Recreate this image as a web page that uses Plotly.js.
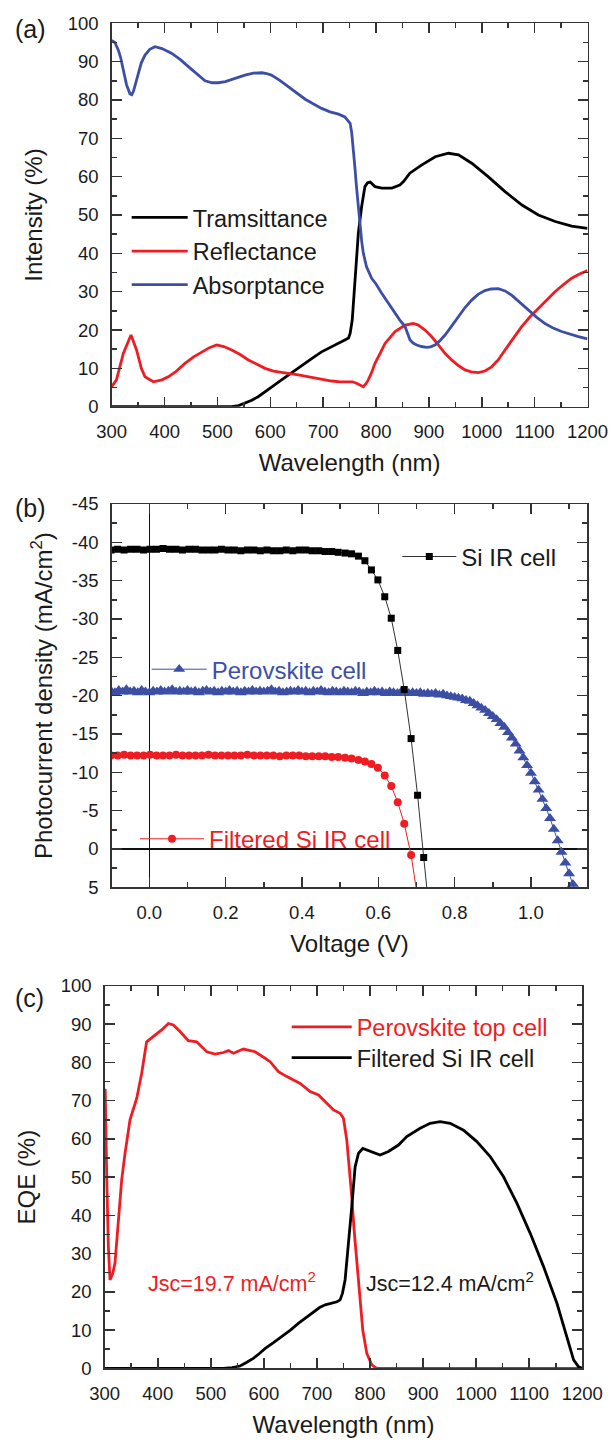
<!DOCTYPE html>
<html>
<head>
<meta charset="utf-8">
<script src="https://cdn.plot.ly/plotly-3.0.1.min.js"></script>
<style>html,body{margin:0;padding:0;background:#fff;}</style>
</head>
<body>
<div id="chart" style="width:610px;height:1442px;"></div>
<script>
// ---------------- Panel (a): optical spectra ----------------
const wlTrans = [300,350,400,450,500,527,540,552,565,577,590,603,618,634,650,666,681,697,713,729,741,748,751,755,760,766.5,772.8,779,784,789,798,811,830,845,852,864,886,912,937,956,981,1012,1044,1076,1107,1139,1170,1200];
const transmittance = [0,0,0,0,0,0,0.3,0.9,1.7,2.6,3.8,5.2,6.7,8.3,9.8,11.3,12.8,14.3,15.5,16.5,17.4,17.9,19.1,22.6,33,45.2,52.2,57.4,58.4,58.6,57.4,57,57,57.8,58.7,60.9,63,65.2,66.1,65.7,63.5,60,56.1,52.6,50,48.3,47.1,46.5];

const wlRefl = [300,309,322,336.5,347,356,363,378.7,395,407,420,438.6,455,470,485,498.5,512,527,543,558.5,575,590,606,621.5,637,653,669,684.5,700,716,732,748,756,763,770,776,781,785.4,792,798,808,817,836,855,870.5,880,892.6,905,917.8,930,943,955,968.3,980,993.5,1006,1018.7,1031,1044,1060,1075.5,1091,1107,1123,1138.5,1154,1170,1185,1200];
const reflectance = [5.2,7,13.9,18.7,14.8,10,7.8,6.5,7,7.8,9,11.3,13,14.3,15.4,16.1,15.7,14.8,13.6,12.2,11,10,9.3,8.9,8.6,8.3,7.9,7.4,7,6.7,6.5,6.5,6.5,6.1,5.6,5.2,6,7,9,11.3,14,16.5,19.6,21.3,21.7,21.3,20,18.3,16.1,14,12.2,10.8,9.6,9.1,8.9,9.3,10.4,12.2,14.8,17.8,20.9,23.4,25.7,28,30,31.8,33.5,34.6,35.5];

const wlAbs = [300,306,312.6,317,322,328,334.6,338,341,346,350.4,356,363,372,382,395,413,430,445,460,476.5,490,502,515,527,540,552,568,584,593,602,618,634,650,666,681,697,713,729,741,748,751,754,757,760,763,766.5,769.7,773,776,782,791.7,800,810.7,823,836,845,854.8,860,864.3,870,876.9,886,895.8,903,911.5,920,930.5,943,955.7,968,980.9,993,1006,1018,1031.3,1044,1056.5,1072,1088,1104,1119.6,1135,1151,1167,1182.7,1200];
const absorptance = [95.5,95,93,91,87.8,84,81.6,81.4,82.2,84.5,87,89.7,91.7,93.2,93.9,93.4,92.2,90.5,88.7,87,85,84.5,84.5,84.8,85.4,86,86.5,87,87.1,86.9,86.5,85.1,83.5,81.8,80.2,79,77.8,76.9,76.3,75.6,74.4,73.9,71.5,67.8,62.5,57.4,52,47,43,40,36.5,33.5,32,29.6,27,24.3,22.6,20.9,19,17.4,16.6,16.1,15.7,15.5,15.6,16.1,17.1,18.7,21,23.5,25.8,27.8,29.3,30.3,30.7,30.8,30.2,29.1,27.2,25.2,23.3,21.7,20.5,19.6,18.9,18.3,17.7];

// ---------------- Panel (b): J-V curves ----------------
const vSi = [-0.100,-0.083,-0.066,-0.049,-0.032,-0.015,0.002,0.019,0.036,0.053,0.070,0.087,0.104,0.121,0.138,0.155,0.172,0.189,0.206,0.223,0.240,0.257,0.274,0.291,0.308,0.325,0.342,0.359,0.376,0.393,0.410,0.427,0.444,0.461,0.478,0.495,0.513,0.530,0.548,0.565,0.582,0.599,0.617,0.634,0.651,0.668,0.686,0.703,0.719,0.736];
const jSi = [-39.0,-39.1,-39.0,-39.1,-39.1,-39.0,-39.1,-39.1,-39.2,-39.1,-39.1,-39.0,-39.1,-39.1,-39.0,-39.0,-39.0,-39.1,-39.0,-39.0,-38.9,-39.0,-39.0,-38.9,-39.0,-38.9,-38.9,-39.0,-38.9,-39.0,-39.0,-38.9,-38.9,-38.8,-38.8,-38.7,-38.6,-38.5,-38.2,-37.6,-36.4,-35.1,-32.9,-30.1,-25.9,-20.8,-14.4,-7.0,1.1,9.3];

const vFilt = [-0.100,-0.083,-0.066,-0.049,-0.032,-0.015,0.002,0.019,0.036,0.053,0.070,0.087,0.104,0.121,0.138,0.155,0.172,0.189,0.206,0.223,0.240,0.257,0.274,0.291,0.308,0.325,0.342,0.359,0.376,0.393,0.410,0.427,0.444,0.461,0.478,0.495,0.513,0.530,0.548,0.565,0.582,0.599,0.617,0.634,0.651,0.668,0.686,0.703];
const jFilt = [-12.2,-12.2,-12.3,-12.2,-12.2,-12.2,-12.3,-12.2,-12.2,-12.2,-12.3,-12.2,-12.2,-12.2,-12.2,-12.3,-12.2,-12.2,-12.2,-12.2,-12.2,-12.3,-12.2,-12.2,-12.2,-12.2,-12.1,-12.2,-12.2,-12.2,-12.1,-12.1,-12.1,-12.1,-12.0,-12.0,-11.9,-11.8,-11.6,-11.4,-11.1,-10.6,-9.6,-8.2,-6.1,-3.3,0.8,6.3];

const vPero = [-0.10,-0.09,-0.08,-0.07,-0.06,-0.05,-0.04,-0.03,-0.02,-0.01,
  0.00,0.01,0.02,0.03,0.04,0.05,0.06,0.07,0.08,0.09,
  0.10,0.11,0.12,0.13,0.14,0.15,0.16,0.17,0.18,0.19,
  0.20,0.21,0.22,0.23,0.24,0.25,0.26,0.27,0.28,0.29,
  0.30,0.31,0.32,0.33,0.34,0.35,0.36,0.37,0.38,0.39,
  0.40,0.41,0.42,0.43,0.44,0.45,0.46,0.47,0.48,0.49,
  0.50,0.51,0.52,0.53,0.54,0.55,0.56,0.57,0.58,0.59,
  0.60,0.61,0.62,0.63,0.64,0.65,0.66,0.67,0.68,0.69,
  0.70,0.71,0.72,0.73,0.74,0.75,0.76,0.77,0.78,0.79,
  0.80,0.81,0.82,0.83,0.84,0.85,0.86,0.87,0.88,0.89,
  0.90,0.91,0.92,0.93,0.94,0.95,0.96,0.97,0.98,0.99,
  1.00,1.01,1.02,1.03,1.04,1.05,1.06,1.07,1.08,1.09,
  1.10,1.11,1.12];
const jPero = [-20.6,-20.4,-20.7,-20.5,-20.8,-20.5,-20.6,-20.4,-20.7,-20.5,
  -20.4,-20.6,-20.5,-20.7,-20.5,-20.6,-20.8,-20.5,-20.6,-20.5,
  -20.7,-20.5,-20.6,-20.4,-20.6,-20.7,-20.5,-20.6,-20.4,-20.6,
  -20.5,-20.7,-20.5,-20.6,-20.4,-20.6,-20.5,-20.7,-20.5,-20.6,
  -20.5,-20.6,-20.8,-20.5,-20.6,-20.4,-20.5,-20.6,-20.5,-20.7,
  -20.5,-20.6,-20.4,-20.6,-20.5,-20.7,-20.5,-20.4,-20.6,-20.5,
  -20.4,-20.6,-20.5,-20.4,-20.6,-20.5,-20.3,-20.5,-20.4,-20.6,
  -20.4,-20.5,-20.3,-20.5,-20.4,-20.3,-20.5,-20.4,-20.3,-20.4,
  -20.3,-20.4,-20.2,-20.3,-20.2,-20.3,-20.1,-20.2,-20.0,-19.9,
  -19.8,-19.7,-19.6,-19.4,-19.3,-19.0,-18.7,-18.4,-18.1,-17.7,
  -17.3,-16.9,-16.4,-15.9,-15.2,-14.5,-13.7,-12.8,-11.9,-10.9,
  -9.9,-8.8,-7.7,-6.5,-5.3,-4.0,-2.6,-1.1,0.4,1.8,
  3.2,4.6,6.1];

const jTickVals = [-45,-40,-35,-30,-25,-20,-15,-10,-5,0,5];
const jTickText = ['-45','-40','-35','-30','-25','-20','-15','-10','-5','0','5'];

// ---------------- Panel (c): EQE ----------------
const wlPeroEQE = [300,301,303.7,306.9,310,315,319.4,325.7,332,338.3,347.7,360.3,369.7,379,394.8,407.3,419.9,429.3,441.9,457.6,473.4,479.7,492.3,508,523.8,533.1,542.6,561.4,583.4,602.3,611.7,627.4,643.2,668.3,687.2,702.9,718.6,731.2,743.6,749.9,756.2,761.2,765.6,770,775,780,786.3,793.9,803.3,812.7,900,1000,1100,1200];
const eqePero = [73,72.8,51,31.8,23.1,24.8,27.5,38.8,49.3,56.2,65,70.6,77.2,85.4,87.2,88.5,90.2,89.8,88.1,85.7,85.4,84.6,82.8,82.2,82.6,83.1,82.4,83.5,82.8,81.1,80.2,77.6,76.3,74.5,72.4,71.5,69.3,67.6,66.7,65.4,59.7,52.7,44.9,36.2,27.5,18.7,10,3.9,0.9,0,0,0,0,0];

const wlSiEQE = [300,400,500,524,540,555,567,580,591,602.6,618,634,650,665.4,680,693.6,705,715.6,728,737.7,743.6,748,753,759.3,765.6,771.9,778.2,786.3,800.2,819,834.7,853.6,869.3,894.4,913.3,932.2,951,976.2,1001.3,1026.4,1051.6,1076.7,1101.9,1127,1152.2,1171,1183.6,1193,1200];
const eqeSi = [0,0,0,0,0.2,0.6,1.5,2.6,3.8,5.2,6.7,8.3,10,11.8,13.4,14.8,15.9,16.6,17.1,17.4,17.9,19.6,23.1,31.8,42.3,52.7,56.2,57.5,56.7,55.8,56.7,58.4,60.6,62.8,64.1,64.5,64.1,62.3,59.3,55.4,50.1,43.2,35.3,26.6,17,8.3,2.2,0.4,0];

// ---------------- styling ----------------
const FONT = 'Liberation Sans, Arial, Helvetica, sans-serif';
const TXT = '#1a1a1a';
const FRAME = '#333333';
const RED = '#ee1d23';
const BLUE = '#3c4fa5';
const W = 610, H = 1442;

function px2x(p){ return p / W; }
function px2y(p){ return 1 - p / H; }

function baseAxis(extra){
  return Object.assign({
    showline: true, linecolor: FRAME, linewidth: 1.5, mirror: 'allticks',
    ticks: 'inside', ticklen: 10, tickwidth: 1.5, tickcolor: FRAME,
    showgrid: false, zeroline: false, automargin: false,
    tickfont: {family: FONT, size: 18.5, color: TXT},
    ticklabelstandoff: 8,
    fixedrange: true
  }, extra);
}
function minor(dt){ return {ticks: 'inside', ticklen: 5, tickwidth: 1.5, tickcolor: FRAME, dtick: dt, showgrid: false}; }
function titleObj(t, standoff){ return {text: t, font: {family: FONT, size: 24, color: TXT}, standoff: standoff}; }

function legendAt(leftPx, topPx, size, color, itemw){
  return {x: px2x(leftPx), y: px2y(topPx), xanchor: 'left', yanchor: 'top',
    bgcolor: 'rgba(0,0,0,0)', borderwidth: 0, itemwidth: itemw,
    font: {family: FONT, size: size, color: color}, traceorder: 'normal', tracegroupgap: 0};
}

const traces = [
  {x: wlTrans, y: transmittance, name: 'Tramsittance', mode: 'lines', line: {color: '#000', width: 2.8}, xaxis: 'x', yaxis: 'y', legend: 'legend'},
  {x: wlRefl, y: reflectance, name: 'Reflectance', mode: 'lines', line: {color: RED, width: 2.8}, xaxis: 'x', yaxis: 'y', legend: 'legend'},
  {x: wlAbs, y: absorptance, name: 'Absorptance', mode: 'lines', line: {color: BLUE, width: 2.8}, xaxis: 'x', yaxis: 'y', legend: 'legend'},

  {x: vPero, y: jPero, name: 'Perovskite cell', mode: 'lines+markers', line: {color: BLUE, width: 1}, marker: {symbol: 'triangle-up', size: 10.5, color: BLUE}, xaxis: 'x2', yaxis: 'y2', legend: 'legend3'},
  {x: vFilt, y: jFilt, name: 'Filtered Si IR cell', mode: 'lines+markers', line: {color: RED, width: 1}, marker: {symbol: 'circle', size: 8, color: RED}, xaxis: 'x2', yaxis: 'y2', legend: 'legend4'},
  {x: vSi, y: jSi, name: 'Si IR cell', mode: 'lines+markers', line: {color: '#333', width: 1}, marker: {symbol: 'square', size: 7, color: '#000'}, xaxis: 'x2', yaxis: 'y2', legend: 'legend2'},

  {x: wlPeroEQE, y: eqePero, name: 'Perovskite top cell', mode: 'lines', line: {color: RED, width: 2.8}, xaxis: 'x3', yaxis: 'y3', legend: 'legend5'},
  {x: wlSiEQE, y: eqeSi, name: 'Filtered Si IR cell', mode: 'lines', line: {color: '#000', width: 2.8}, xaxis: 'x3', yaxis: 'y3', legend: 'legend6'}
];

const layout = {
  width: W, height: H,
  margin: {l: 0, r: 0, t: 0, b: 0, pad: 0},
  paper_bgcolor: '#ffffff', plot_bgcolor: '#ffffff',
  font: {family: FONT, color: TXT},
  showlegend: true,
  xaxis: baseAxis({domain: [px2x(111.7), px2x(587.5)], anchor: 'y', range: [300, 1200], tick0: 0, dtick: 100, minor: minor(50), title: titleObj('Wavelength (nm)', 13)}),
  yaxis: baseAxis({domain: [px2y(406.7), px2y(23.3)], anchor: 'x', range: [0, 100], tick0: 0, dtick: 10, minor: minor(5), title: titleObj('Intensity (%)', 18)}),
  xaxis2: baseAxis({domain: [px2x(111.7), px2x(587.3)], anchor: 'y2', range: [-0.0985, 1.1477], tick0: 0, dtick: 0.2, tickformat: '.1f', minor: minor(0.1), zeroline: true, zerolinecolor: '#111', zerolinewidth: 1.5, title: titleObj('Voltage (V)', 13)}),
  yaxis2: baseAxis({domain: [px2y(887.3), px2y(504)], anchor: 'x2', range: [5, -45], tickmode: 'array', tickvals: jTickVals, ticktext: jTickText, minor: Object.assign(minor(2.5), {tick0: 0}), zeroline: true, zerolinecolor: '#111', zerolinewidth: 1.5, title: titleObj('Photocurrent density (mA/cm<sup>2</sup>)', 12)}),
  xaxis3: baseAxis({domain: [px2x(104.7), px2x(582.3)], anchor: 'y3', range: [300, 1200], tick0: 0, dtick: 100, minor: minor(50), title: titleObj('Wavelength (nm)', 13)}),
  yaxis3: baseAxis({domain: [px2y(1368.3), px2y(986)], anchor: 'x3', range: [0, 100], tick0: 0, dtick: 10, minor: minor(5), title: titleObj('EQE (%)', 18)}),
  legend: legendAt(126.7, 195.7, 23.5, TXT, 56),
  legend2: legendAt(397.3, 534.4, 24, TXT, 54),
  legend3: legendAt(146.7, 647.1, 24, BLUE, 55),
  legend4: legendAt(135, 816.7, 24, RED, 64),
  legend5: legendAt(286.7, 1005, 23.5, RED, 60),
  legend6: legendAt(286.7, 1035.8, 23.5, TXT, 60),
  annotations: [
    {text: '(a)', xref: 'paper', yref: 'paper', x: px2x(13), y: px2y(29), xanchor: 'left', yanchor: 'middle', showarrow: false, font: {family: FONT, size: 25, color: TXT}},
    {text: '(b)', xref: 'paper', yref: 'paper', x: px2x(13), y: px2y(508), xanchor: 'left', yanchor: 'middle', showarrow: false, font: {family: FONT, size: 25, color: TXT}},
    {text: '(c)', xref: 'paper', yref: 'paper', x: px2x(13), y: px2y(997.5), xanchor: 'left', yanchor: 'middle', showarrow: false, font: {family: FONT, size: 25, color: TXT}},
    {text: 'Jsc=19.7 mA/cm<sup>2</sup>', xref: 'x3', yref: 'y3', x: 377, y: 22.5, xanchor: 'left', yanchor: 'middle', showarrow: false, font: {family: FONT, size: 21.5, color: RED}},
    {text: 'Jsc=12.4 mA/cm<sup>2</sup>', xref: 'x3', yref: 'y3', x: 789, y: 22.5, xanchor: 'left', yanchor: 'middle', showarrow: false, font: {family: FONT, size: 21.5, color: TXT}}
  ]
};

Plotly.newPlot('chart', traces, layout, {staticPlot: true, displayModeBar: false});
</script>
</body>
</html>
